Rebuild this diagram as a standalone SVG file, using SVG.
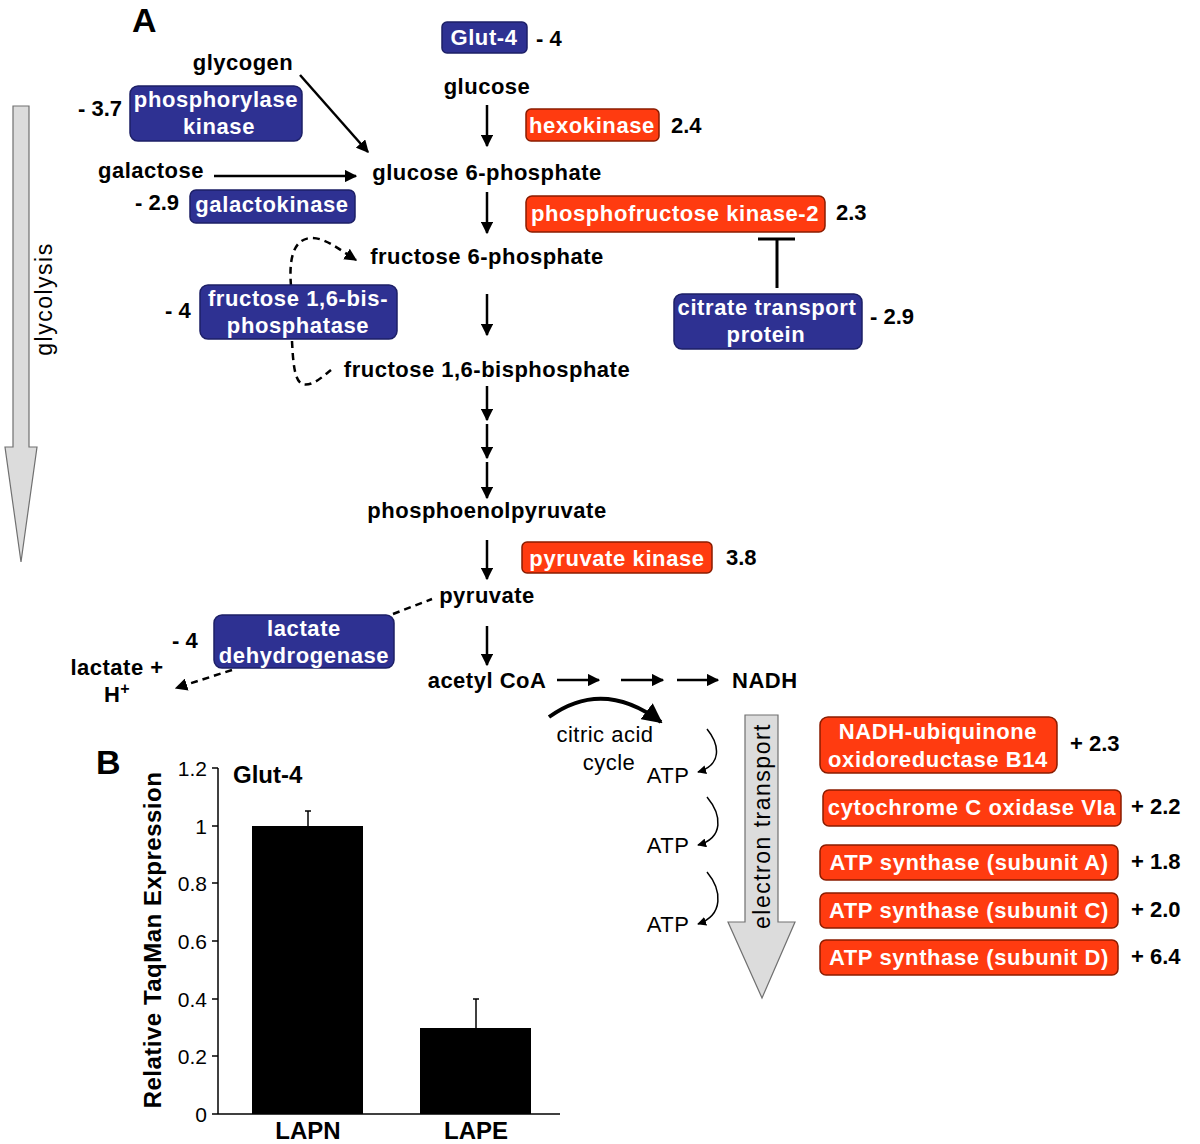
<svg xmlns="http://www.w3.org/2000/svg" width="1200" height="1144" viewBox="0 0 1200 1144">
<defs>
<style>
text{font-family:"Liberation Sans",Arial,sans-serif;font-weight:bold;fill:#000}
.t{font-size:22px;letter-spacing:0.5px}
.w{font-size:22px;letter-spacing:0.6px;fill:#fff;text-anchor:middle}
.n{font-size:22px}
.c{text-anchor:middle}
.blue{fill:#2e3192;stroke:#1c1f66;stroke-width:1.5}
.red{fill:#ff3b10;stroke:#8a1c00;stroke-width:1.5}
.ln{stroke:#000;stroke-width:2.5;fill:none}
.dash{stroke:#000;stroke-width:2.5;fill:none;stroke-dasharray:7,5}
.thin{stroke:#000;stroke-width:1.5;fill:none}
.big{fill:#dcdcdc;stroke:#707070;stroke-width:1.2}
</style>
<marker id="ah" viewBox="0 0 10 10" refX="9" refY="5" markerWidth="5" markerHeight="5" orient="auto" markerUnits="strokeWidth"><path d="M0,0 L10,5 L0,10 z" fill="#000"/></marker>
<marker id="ahs" viewBox="0 0 10 10" refX="9" refY="5" markerWidth="6" markerHeight="6" orient="auto" markerUnits="strokeWidth"><path d="M0,0 L10,5 L0,10 z" fill="#000"/></marker>
</defs>

<text x="132" y="32" style="font-size:34px">A</text>
<text x="96" y="774" style="font-size:34px">B</text>

<g id="glycolysis-arrow">
<path class="big" d="M13,106 L29,106 L29,447 L37,447 L21,562 L5,447 L13,447 Z"/>
<text transform="translate(52,299) rotate(-90)" class="c" style="font-size:23px;font-weight:normal;letter-spacing:1.5px">glycolysis</text>
</g>

<g id="metabolites">
<text x="243" y="70" class="t c">glycogen</text>
<text x="151" y="178" class="t c">galactose</text>
<text x="487" y="94" class="t c">glucose</text>
<text x="487" y="180" class="t c">glucose 6-phosphate</text>
<text x="487" y="264" class="t c">fructose 6-phosphate</text>
<text x="487" y="377" class="t c">fructose 1,6-bisphosphate</text>
<text x="487" y="518" class="t c">phosphoenolpyruvate</text>
<text x="487" y="603" class="t c">pyruvate</text>
<text x="487" y="688" class="t c">acetyl CoA</text>
<text x="732" y="688" class="t">NADH</text>
<text x="117" y="675" class="t c">lactate +</text>
<text x="117" y="702" class="t c">H<tspan dy="-8" style="font-size:16px">+</tspan></text>
<text x="605" y="742" class="t c" style="font-weight:normal">citric acid</text>
<text x="609" y="770" class="t c" style="font-weight:normal">cycle</text>
<text x="668" y="783" class="t c" style="font-weight:normal">ATP</text>
<text x="668" y="853" class="t c" style="font-weight:normal">ATP</text>
<text x="668" y="932" class="t c" style="font-weight:normal">ATP</text>
</g>

<g id="connectors">
<line class="ln" x1="300" y1="75" x2="368" y2="152" marker-end="url(#ah)"/>
<line class="ln" x1="214" y1="176" x2="356" y2="176" marker-end="url(#ah)"/>
<line class="ln" x1="487" y1="105" x2="487" y2="146" marker-end="url(#ah)"/>
<line class="ln" x1="487" y1="192" x2="487" y2="233" marker-end="url(#ah)"/>
<line class="ln" x1="487" y1="294" x2="487" y2="335" marker-end="url(#ah)"/>
<line class="ln" x1="487" y1="386" x2="487" y2="420" marker-end="url(#ah)"/>
<line class="ln" x1="487" y1="424" x2="487" y2="458" marker-end="url(#ah)"/>
<line class="ln" x1="487" y1="462" x2="487" y2="498" marker-end="url(#ah)"/>
<line class="ln" x1="487" y1="540" x2="487" y2="579" marker-end="url(#ah)"/>
<line class="ln" x1="487" y1="626" x2="487" y2="665" marker-end="url(#ah)"/>
<line class="ln" x1="557" y1="680" x2="599" y2="680" marker-end="url(#ah)"/>
<line class="ln" x1="621" y1="680" x2="663" y2="680" marker-end="url(#ah)"/>
<line class="ln" x1="677" y1="680" x2="718" y2="680" marker-end="url(#ah)"/>
<path d="M549,717 Q603,678 661,722" stroke="#000" stroke-width="4" fill="none" marker-end="url(#ah)"/>
<path class="dash" d="M291,286 C289,262 292,240 310,238 C325,237 340,250 356,260" marker-end="url(#ah)"/>
<path class="dash" d="M292,341 C293,360 294,380 302,384 C312,387 322,377 331,370"/>
<line class="dash" x1="393" y1="614" x2="432" y2="599"/>
<line class="dash" x1="232" y1="670" x2="176" y2="688" marker-end="url(#ah)"/>
<line x1="777" y1="288" x2="777" y2="240" stroke="#000" stroke-width="3"/>
<line x1="758" y1="239" x2="795" y2="239" stroke="#000" stroke-width="3"/>
<path class="thin" d="M707,729 C720,745 722,765 698,772" marker-end="url(#ahs)"/>
<path class="thin" d="M707,797 C722,815 724,838 698,845" marker-end="url(#ahs)"/>
<path class="thin" d="M707,872 C722,890 724,915 698,924" marker-end="url(#ahs)"/>
</g>

<g id="electron-transport">
<path class="big" d="M745,715 L778,715 L778,922 L795,922 L762,998 L728,922 L745,922 Z"/>
<text transform="translate(770,826) rotate(-90)" class="c" style="font-size:23px;font-weight:normal;letter-spacing:1.5px">electron transport</text>
</g>

<g id="glut4-node"><rect class="blue" x="442" y="22" width="85" height="31" rx="5"/><text x="484" y="45" class="w">Glut-4</text><text x="536" y="46" class="n">- 4</text></g>
<g id="hexokinase-node"><rect class="red" x="526" y="109" width="133" height="32" rx="5"/><text x="592" y="133" class="w">hexokinase</text><text x="671" y="133" class="n">2.4</text></g>
<g id="pfk2-node"><rect class="red" x="526" y="196" width="299" height="36" rx="6"/><text x="675" y="221" class="w">phosphofructose kinase-2</text><text x="836" y="220" class="n">2.3</text></g>
<g id="citrate-node"><rect class="blue" x="674" y="294" width="188" height="55" rx="8"/><text x="767" y="315" class="w">citrate transport</text><text x="766" y="342" class="w">protein</text><text x="870" y="324" class="n">- 2.9</text></g>
<g id="phosphorylase-node"><rect class="blue" x="130" y="86" width="172" height="55" rx="8"/><text x="216" y="107" class="w">phosphorylase</text><text x="219" y="134" class="w">kinase</text><text x="78" y="116" class="n">- 3.7</text></g>
<g id="galactokinase-node"><rect class="blue" x="190" y="190" width="165" height="33" rx="6"/><text x="272" y="212" class="w">galactokinase</text><text x="135" y="210" class="n">- 2.9</text></g>
<g id="fbpase-node"><rect class="blue" x="200" y="285" width="197" height="54" rx="8"/><text x="298" y="306" class="w">fructose 1,6-bis-</text><text x="298" y="333" class="w">phosphatase</text><text x="165" y="318" class="n">- 4</text></g>
<g id="ldh-node"><rect class="blue" x="214" y="615" width="180" height="53" rx="8"/><text x="304" y="636" class="w">lactate</text><text x="304" y="663" class="w">dehydrogenase</text><text x="172" y="648" class="n">- 4</text></g>
<g id="pk-node"><rect class="red" x="522" y="542" width="190" height="31" rx="5"/><text x="617" y="566" class="w">pyruvate kinase</text><text x="726" y="565" class="n">3.8</text></g>
<g id="nadh-ubq-node"><rect class="red" x="820" y="717" width="237" height="56" rx="8"/><text x="938" y="739" class="w">NADH-ubiquinone</text><text x="938" y="767" class="w">oxidoreductase B14</text><text x="1070" y="751" class="n">+ 2.3</text></g>
<g id="cox-node"><rect class="red" x="823" y="790" width="298" height="36" rx="6"/><text x="972" y="815" class="w">cytochrome C oxidase VIa</text><text x="1131" y="814" class="n">+ 2.2</text></g>
<g id="atpA-node"><rect class="red" x="820" y="845" width="298" height="35" rx="6"/><text x="969" y="870" class="w">ATP synthase (subunit A)</text><text x="1131" y="869" class="n">+ 1.8</text></g>
<g id="atpC-node"><rect class="red" x="820" y="893" width="298" height="35" rx="6"/><text x="969" y="918" class="w">ATP synthase (subunit C)</text><text x="1131" y="917" class="n">+ 2.0</text></g>
<g id="atpD-node"><rect class="red" x="820" y="940" width="298" height="35" rx="6"/><text x="969" y="965" class="w">ATP synthase (subunit D)</text><text x="1131" y="964" class="n">+ 6.4</text></g>

<g id="chart">
<line x1="218" y1="768" x2="218" y2="1114" stroke="#000" stroke-width="1.5"/>
<line x1="218" y1="1114" x2="560" y2="1114" stroke="#000" stroke-width="1.5"/>
<g stroke="#000" stroke-width="1.5">
<line x1="212" y1="768" x2="218" y2="768"/><line x1="212" y1="826" x2="218" y2="826"/><line x1="212" y1="883" x2="218" y2="883"/><line x1="212" y1="941" x2="218" y2="941"/><line x1="212" y1="999" x2="218" y2="999"/><line x1="212" y1="1056" x2="218" y2="1056"/><line x1="212" y1="1114" x2="218" y2="1114"/>
</g>
<g style="font-size:21px;text-anchor:end">
<text x="207" y="776" style="font-weight:normal">1.2</text>
<text x="207" y="834" style="font-weight:normal">1</text>
<text x="207" y="891" style="font-weight:normal">0.8</text>
<text x="207" y="949" style="font-weight:normal">0.6</text>
<text x="207" y="1007" style="font-weight:normal">0.4</text>
<text x="207" y="1064" style="font-weight:normal">0.2</text>
<text x="207" y="1122" style="font-weight:normal">0</text>
</g>
<rect x="252" y="826" width="111" height="288" fill="#000"/>
<rect x="420" y="1028" width="111" height="86" fill="#000"/>
<line x1="308" y1="826" x2="308" y2="811" stroke="#000" stroke-width="1.5"/><line x1="305" y1="811" x2="311" y2="811" stroke="#000" stroke-width="1.5"/>
<line x1="476" y1="1028" x2="476" y2="999" stroke="#000" stroke-width="1.5"/><line x1="473" y1="999" x2="479" y2="999" stroke="#000" stroke-width="1.5"/>
<text x="233" y="783" style="font-size:24px">Glut-4</text>
<text transform="translate(161,940) rotate(-90)" class="c" style="font-size:24px;letter-spacing:0.5px">Relative TaqMan Expression</text>
<text x="308" y="1139" class="c" style="font-size:24px">LAPN</text>
<text x="476" y="1139" class="c" style="font-size:24px">LAPE</text>
</g>
</svg>
